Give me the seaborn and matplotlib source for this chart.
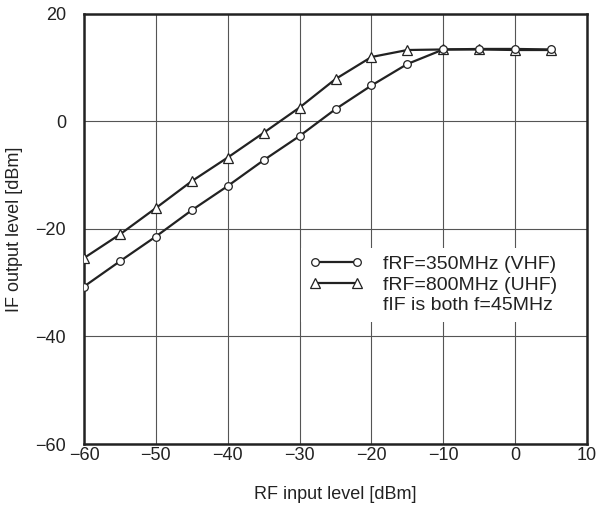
import pandas as pd
import seaborn as sns
import matplotlib.pyplot as plt
from matplotlib.lines import Line2D

# RF input level [dBm]
rf_in = [-60, -55, -50, -45, -40, -35, -30, -25, -20, -15, -10, -5, 0, 5]
# IF output level [dBm]
vhf_out = [-30.7, -26.0, -21.4, -16.5, -12.0, -7.2, -2.7, 2.3, 6.7, 10.7, 13.4, 13.5, 13.5, 13.4]
uhf_out = [-25.4, -21.0, -16.1, -11.1, -6.7, -2.1, 2.6, 7.9, 12.0, 13.3, 13.4, 13.4, 13.3, 13.3]

x_ticks = [-60, -50, -40, -30, -20, -10, 0, 10]
y_ticks = [-60, -40, -20, 0, 20]

vhf = pd.DataFrame({"rf": rf_in, "if_out": vhf_out})
uhf = pd.DataFrame({"rf": rf_in, "if_out": uhf_out})

sns.set_theme(style="white")
plt.rcParams["font.family"] = ["Liberation Sans", "DejaVu Sans"]

fig = plt.figure(figsize=(5.98, 5.09), dpi=100)
ax = fig.add_axes([0.1405, 0.1277, 0.8411, 0.8448])

sns.lineplot(data=uhf, x="rf", y="if_out", ax=ax, color="#222222", linewidth=1.6,
             marker="^", markersize=7.5, markerfacecolor="white",
             markeredgecolor="#222222", markeredgewidth=0.9, zorder=3)
sns.lineplot(data=vhf, x="rf", y="if_out", ax=ax, color="#222222", linewidth=1.6,
             marker="o", markersize=5.5, markerfacecolor="white",
             markeredgecolor="#222222", markeredgewidth=0.9, zorder=4)

ax.set_xlim(-60, 10)
ax.set_ylim(-60, 20)
ax.set_xticks(x_ticks)
ax.set_yticks(y_ticks)
ax.grid(True, color="#555555", linewidth=0.8)
ax.set_axisbelow(True)
for s in ax.spines.values():
    s.set_color("#222222")
    s.set_linewidth(1.8)
ax.tick_params(length=0, labelsize=13, colors="#222222")
ax.tick_params(axis="y", pad=13)
ax.tick_params(axis="x", pad=2)

ax.set_xlabel("RF input level [dBm]", fontsize=13, color="#222222", labelpad=16)
ax.set_ylabel("IF output level [dBm]", fontsize=13, color="#222222", labelpad=9)

handles = [
    Line2D([], [], color="#222222", linewidth=1.6, marker="o", markersize=5.5,
           markerfacecolor="white", markeredgecolor="#222222", markeredgewidth=0.9),
    Line2D([], [], color="#222222", linewidth=1.6, marker="^", markersize=7.5,
           markerfacecolor="white", markeredgecolor="#222222", markeredgewidth=0.9),
    Line2D([], [], linestyle="none"),
]
labels = ["fRF=350MHz (VHF)", "fRF=800MHz (UHF)", "fIF is both f=45MHz"]
leg = ax.legend(handles, labels, loc="center left", bbox_to_anchor=(0.413, 0.37),
                numpoints=2, frameon=True, fontsize=14, handlelength=2.77,
                handletextpad=1.04, labelspacing=0.15, borderpad=0.4, facecolor="white",
                edgecolor="white", framealpha=1, fancybox=False)
leg.get_frame().set_linewidth(0)
for t in leg.get_texts():
    t.set_color("#222222")

fig.savefig("out.png", dpi=100)
